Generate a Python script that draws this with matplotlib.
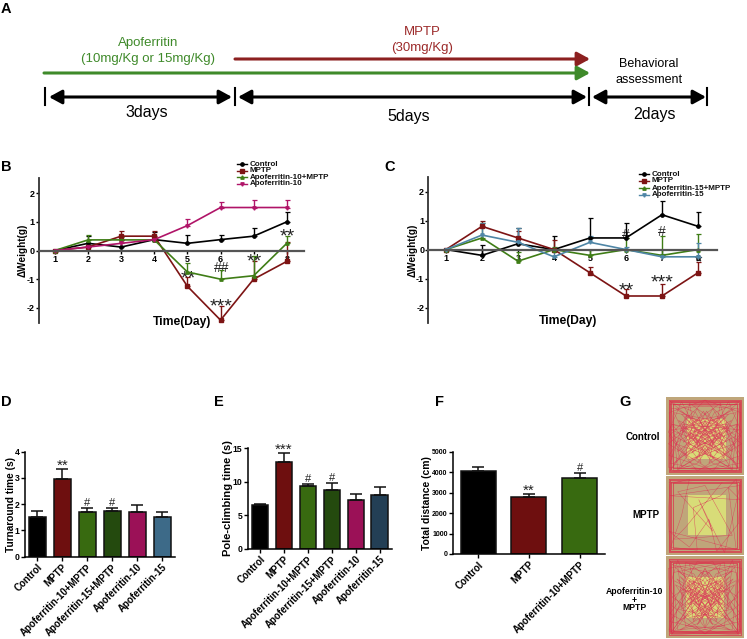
import matplotlib
matplotlib.use("Agg")
import matplotlib.pyplot as plt
from matplotlib.patches import Rectangle

W, H = 747, 639
plt.rcParams['font.family'] = ['Liberation Sans', 'DejaVu Sans']

# ---- data ----
days = [1, 2, 3, 4, 5, 6, 7, 8]

# panel B
b_control = [0, 0.25, 0.12, 0.38, 0.25, 0.38, 0.5, 1.0]
b_control_err = [0, 0.27, 0.25, 0.25, 0.3, 0.17, 0.27, 0.33]
b_mptp = [0, 0.12, 0.5, 0.5, -1.25, -2.43, -1.0, -0.38]
b_mptp_err = [0, 0.05, 0.18, 0.18, 0.32, 0.48, 0.62, 0.66]
b_apo_mptp = [0, 0.37, 0.37, 0.37, -0.75, -1.0, -0.88, 0.25]
b_apo_mptp_err = [0, 0.18, 0.1, 0.1, 0.3, 0.32, 0.68, 0.25]
b_apo = [0, 0.12, 0.25, 0.38, 0.87, 1.5, 1.5, 1.5]
b_apo_err = [0, 0.05, 0.1, 0.1, 0.22, 0.19, 0.26, 0.26]

# panel C
c_control = [0, -0.2, 0.2, 0, 0.4, 0.4, 1.2, 0.8]
c_control_err = [0, 0.37, 0.55, 0.45, 0.68, 0.52, 0.48, 0.5]
c_mptp = [0, 0.8, 0.4, 0, -0.8, -1.6, -1.6, -0.8]
c_mptp_err = [0, 0.2, 0.25, 0.32, 0.2, 0.25, 0.4, 0.37]
c_apo_mptp = [0, 0.4, -0.4, 0, -0.2, 0, -0.2, 0]
c_apo_mptp_err = [0, 0.5, 0.3, 0.1, 0.2, 0.4, 0.67, 0.55]
c_apo = [0, 0.5, 0.25, -0.25, 0.25, 0, -0.25, -0.25]
c_apo_err = [0, 0.4, 0.5, 0.3, 0.2, 0.1, 0.1, 0.47]

# bars
d_labels = ['Control', 'MPTP', 'Apoferritin-10+MPTP', 'Apoferritin-15+MPTP', 'Apoferritin-10', 'Apoferritin-15']
d_values = [1.52, 2.95, 1.7, 1.73, 1.72, 1.52]
d_err = [0.23, 0.4, 0.15, 0.12, 0.25, 0.2]
e_values = [6.5, 12.9, 9.3, 8.7, 7.3, 8.0]
e_err = [0.2, 1.4, 0.3, 1.1, 0.85, 1.15]
f_labels = ['Control', 'MPTP', 'Apoferritin-10+MPTP']
f_values = [4050, 2780, 3720]
f_err = [210, 170, 240]

# hand read tracks for panel G, x/y from 0 to 1 inside the box
g_control = [(.05,.1),(.95,.06),(.97,.9),(.1,.95),(.04,.2),(.5,.04),(.96,.5),(.6,.95),(.03,.6),(.4,.3),(.9,.2),(.7,.6),(.2,.9),
             (.08,.35),(.55,.5),(.85,.93),(.93,.15),(.3,.1),(.15,.7),(.65,.3),(.75,.75),(.35,.55),(.6,.15),(.96,.75),(.45,.92),(.05,.85),
             (.25,.25),(.8,.4),(.5,.7),(.1,.5),(.7,.08),(.55,.85),(.92,.35),(.4,.45),(.2,.06),(.03,.45),(.3,.8),(.88,.6),(.62,.42),(.95,.95),
             (.5,.35),(.12,.15),(.72,.5),(.42,.62),(.58,.28),(.33,.72),(.8,.22),(.48,.52),(.18,.42),(.68,.68),(.9,.85),(.6,.6),(.38,.2),(.07,.07),
             (.46,.4),(.78,.58),(.52,.18),(.28,.62),(.66,.48),(.4,.85),(.15,.93),(.56,.66),(.84,.3),(.44,.5),(.62,.8),(.22,.35),(.94,.42),(.5,.6)]
g_mptp = [(.04,.08),(.5,.05),(.96,.07),(.95,.5),(.97,.93),(.5,.96),(.05,.95),(.03,.5),(.05,.1),(.3,.04),(.2,.5),(.06,.9),(.4,.94),
          (.35,.4),(.7,.25),(.9,.04),(.93,.6),(.65,.95),(.55,.55),(.3,.9),(.04,.7),(.9,.93),(.8,.15),(.95,.3),(.05,.25),(.95,.12),(.75,.97),
          (.42,.3),(.6,.7),(.15,.2),(.5,.12),(.85,.75),(.1,.8),(.25,.65),(.72,.08)]
g_apo = [(.04,.06),(.94,.05),(.96,.92),(.07,.96),(.03,.15),(.6,.07),(.93,.6),(.5,.95),(.05,.7),(.45,.2),(.85,.12),(.75,.85),(.15,.9),
         (.1,.3),(.6,.55),(.92,.95),(.9,.2),(.25,.08),(.2,.65),(.7,.3),(.65,.8),(.3,.5),(.55,.2),(.95,.8),(.35,.93),(.04,.9),
         (.3,.3),(.8,.45),(.45,.75),(.08,.5),(.7,.1),(.5,.88),(.88,.35),(.4,.6),(.15,.05),(.04,.4),(.3,.75),(.85,.65),(.55,.4),(.93,.93),
         (.48,.3),(.14,.18),(.7,.52),(.4,.68),(.56,.3),(.35,.78),(.82,.25),(.5,.5),(.2,.4),(.66,.7),(.88,.82),(.58,.62),(.36,.22),(.08,.1),
         (.44,.44),(.76,.6),(.5,.15),(.3,.6),(.64,.46),(.42,.82),(.18,.9),(.54,.7),(.86,.28),(.46,.54),(.6,.84),(.25,.38)]
# distance of the wall runs from the box edge
wall_insets = [.04, .055, .07, .09]

# colours
BLACK = '#000000'
RED = '#7d1414'
GREEN = '#3f7d16'
PINK = '#b01468'
BLUE = '#4f86a6'
bar_colors_d = ['#000000', '#6e0f0f', '#386a10', '#244a0e', '#9b1157', '#3d6a88']
bar_colors_e = ['#000000', '#6e0f0f', '#386a10', '#244a0e', '#9b1157', '#233f55']
bar_colors_f = ['#000000', '#6e0f0f', '#386a10']


def px_axes(fig, left, top, right, bottom):
    return fig.add_axes([left / W, 1 - bottom / H, (right - left) / W, (bottom - top) / H])


fig = plt.figure(figsize=(W / 100, H / 100), dpi=100)

# overlay in pixel coordinates for the schema and labels
bg = fig.add_axes([0, 0, 1, 1])
bg.set_xlim(0, W)
bg.set_ylim(H, 0)
bg.axis('off')

for txt, x, y in [('A', 6, 9), ('B', 6, 167), ('C', 390, 167), ('D', 6, 402), ('E', 219, 402), ('F', 439, 402), ('G', 625, 402)]:
    bg.text(x, y, txt, fontsize=10.5, fontweight='bold', ha='center', va='center')


def arrow(x0, x1, y, color, style='-|>', lw=2.2):
    bg.annotate('', xy=(x1, y), xytext=(x0, y),
                arrowprops=dict(arrowstyle=style + ',head_length=0.55,head_width=0.3', color=color, lw=lw,
                                shrinkA=0, shrinkB=0, mutation_scale=14))


arrow(235, 590, 59, '#8c2020')
arrow(44, 590, 73, '#3f8a2a')
arrow(49, 232, 97, BLACK, '<|-|>')
arrow(238, 587, 97, BLACK, '<|-|>')
arrow(592, 706, 97, BLACK, '<|-|>')
for x in [45, 235, 589, 707]:
    bg.plot([x, x], [88, 105], color=BLACK, lw=1.5)

bg.text(148, 43, 'Apoferritin', color='#3f8a2a', fontsize=9.5, ha='center', va='center')
bg.text(148, 59, '(10mg/Kg or 15mg/Kg)', color='#3f8a2a', fontsize=9.5, ha='center', va='center')
bg.text(422, 32, 'MPTP', color='#9c2a2a', fontsize=9.5, ha='center', va='center')
bg.text(422, 48, '(30mg/Kg)', color='#9c2a2a', fontsize=9.5, ha='center', va='center')
bg.text(649, 64, 'Behavioral', fontsize=9, ha='center', va='center')
bg.text(649, 80, 'assessment', fontsize=9, ha='center', va='center')
bg.text(147, 113, '3days', fontsize=11.5, ha='center', va='center')
bg.text(409, 117, '5days', fontsize=11.5, ha='center', va='center')
bg.text(654, 114, '2days', fontsize=11.5, ha='center', va='center')


def line_panel(box, xlim, ylim, series, legend_x, legend_y, legend_dy, ylab_pad):
    ax = px_axes(fig, *box)
    ax.patch.set_alpha(0)
    ax.set_xlim(*xlim)
    ax.set_ylim(*ylim)
    for side in ['top', 'right']:
        ax.spines[side].set_visible(False)
    ax.spines['bottom'].set_position(('data', 0))
    ax.spines['bottom'].set_color('#555555')
    ax.spines['bottom'].set_linewidth(1.6)
    ax.spines['left'].set_color('#333333')
    ax.spines['left'].set_linewidth(1.3)
    ax.set_xticks(days)
    ax.set_yticks([-2, -1, 0, 1, 2])
    ax.set_yticklabels(['-2', '-1', '0', '1', '2'])
    ax.tick_params(axis='x', length=2, width=1, pad=1, labelsize=6.5, direction='out')
    ax.tick_params(axis='y', length=2.5, width=1, pad=0.5, labelsize=6.5)
    for lab in ax.get_xticklabels() + ax.get_yticklabels():
        lab.set_fontweight('bold')
    ax.set_ylabel('ΔWeight(g)', fontsize=7.2, fontweight='bold', labelpad=ylab_pad)
    for (vals, err, col, mk, name) in series:
        ax.errorbar(days, vals, yerr=[[0] * 8, err], color=col, lw=1.2, marker=mk, ms=2.4,
                    capsize=1.8, elinewidth=1.0, capthick=0.9)
    for i, (vals, err, col, mk, name) in enumerate(series):
        y = legend_y + i * legend_dy
        bg.plot([legend_x, legend_x + 10], [y, y], color=col, lw=1)
        bg.plot([legend_x + 5], [y], color=col, marker=mk, ms=2.4)
        bg.text(legend_x + 13, y, name, fontsize=5.8, fontweight='bold', va='center', color='#111111')
    return ax


b_series = [(b_control, b_control_err, BLACK, 'o', 'Control'),
            (b_mptp, b_mptp_err, RED, 's', 'MPTP'),
            (b_apo_mptp, b_apo_mptp_err, GREEN, '^', 'Apoferritin-10+MPTP'),
            (b_apo, b_apo_err, PINK, 'v', 'Apoferritin-10')]
c_series = [(c_control, c_control_err, BLACK, 'o', 'Control'),
            (c_mptp, c_mptp_err, RED, 's', 'MPTP'),
            (c_apo_mptp, c_apo_mptp_err, GREEN, '^', 'Apoferritin-15+MPTP'),
            (c_apo, c_apo_err, BLUE, 'v', 'Apoferritin-15')]
line_panel((38.7, 178, 304, 323), (0.51, 8.52), (-2.53, 2.53), b_series, 237, 164, 6.6, -1)
line_panel((428.3, 177, 716.7, 322.7), (0.51, 8.52), (-2.52, 2.5), c_series, 639, 174, 7, -1)

bg.text(182, 322, 'Time(Day)', fontsize=8.7, fontweight='bold', ha='center', va='center')
bg.text(568, 321, 'Time(Day)', fontsize=8.7, fontweight='bold', ha='center', va='center')

# significance marks of B and C, stars sit high in their line box
for txt, x, y in [('**', 188, 274), ('***', 221, 302), ('**', 254, 257), ('**', 287, 232),
                  ('**', 626, 286), ('***', 662, 278), ('*', 698, 258)]:
    bg.text(x, y + 5, txt, fontsize=14, ha='center', va='center', color='#222222')
for txt, x, y in [('##', 222, 268), ('#', 626, 235), ('#', 662, 232)]:
    bg.text(x, y, txt, fontsize=10, ha='center', va='center', color='#222222')


def bar_panel(box, xlim, ylim, yticks, labels, values, err, colors, ylabel, marks, ylab_fs, ylab_pad, ytick_fs=6.2):
    ax = px_axes(fig, *box)
    ax.patch.set_alpha(0)
    ax.set_xlim(*xlim)
    ax.set_ylim(*ylim)
    xs = list(range(len(values)))
    ax.bar(xs, values, width=0.69, color=colors, edgecolor='#111111', linewidth=1.1)
    ax.errorbar(xs, values, yerr=[[0] * len(err), err], fmt='none', ecolor='#111111', elinewidth=1.1,
                capsize=4, capthick=1.1)
    for side in ['top', 'right']:
        ax.spines[side].set_visible(False)
    for side in ['left', 'bottom']:
        ax.spines[side].set_linewidth(1.1)
    ax.set_yticks(yticks)
    ax.set_xticks(xs)
    ax.set_xticklabels(labels, rotation=45, ha='right', rotation_mode='anchor', fontsize=7, fontweight='bold')
    ax.tick_params(axis='y', length=3, width=1, pad=1, labelsize=ytick_fs)
    ax.tick_params(axis='x', length=3, width=1, pad=1)
    for lab in ax.get_yticklabels():
        lab.set_fontweight('bold')
    ax.set_ylabel(ylabel, fontsize=ylab_fs, fontweight='bold', labelpad=ylab_pad)
    for i, txt in marks:
        star = '*' in txt
        ax.annotate(txt, (i, values[i] + err[i]), xytext=(0, -3 if star else 0), textcoords='offset points',
                    ha='center', va='bottom', fontsize=11 if star else 8, color='#222222')
    return ax


bar_panel((25, 451.7, 175, 556.7), (-0.49, 5.51), (0, 4), [0, 1, 2, 3, 4], d_labels, d_values, d_err,
          bar_colors_d, 'Turnaround time (s)', [(1, '**'), (2, '#'), (3, '#')], 7.3, -1)
bar_panel((248, 448.3, 391.7, 548.7), (-0.5, 5.5), (0, 15), [0, 5, 10, 15], d_labels, e_values, e_err,
          bar_colors_e, 'Pole-climbing time (s)', [(1, '***'), (2, '#'), (3, '#')], 8, 0)
bar_panel((453.3, 451.7, 605, 554), (-0.49, 2.5), (0, 5000), [0, 1000, 2000, 3000, 4000, 5000], f_labels, f_values, f_err,
          bar_colors_f, 'Total distance (cm)', [(1, '**'), (2, '#')], 7.5, 0, 5)


# open field boxes of panel G
def track_box(left, top, right, bottom, track, inner, copies):
    bg.add_patch(Rectangle((left, top), right - left, bottom - top, color='#bfa67a', lw=0))
    il, it, ir, ib = inner
    w, h = right - left, bottom - top
    bg.add_patch(Rectangle((left + il * w, top + it * h), (ir - il) * w, (ib - it) * h, color='#d8dc78', lw=0))
    # same run mirrored, so the few typed points give the crowded look
    views = [lambda p: p, lambda p: (1 - p[0], p[1])]
    for view in views[:copies]:
        pts = [view(p) for p in track]
        bg.plot([left + p[0] * w for p in pts], [top + p[1] * h for p in pts], color='#d9405a', lw=0.35, alpha=0.8)
    for d in wall_insets:
        bg.plot([left + d * w, left + (1 - d) * w, left + (1 - d) * w, left + d * w, left + d * w],
                [top + d * h, top + d * h, top + (1 - d) * h, top + (1 - d) * h, top + d * h],
                color='#dc2a48', lw=0.6, alpha=0.8)


track_box(666, 397, 744, 475, g_control, (.27, .28, .77, .79), 2)
track_box(666, 476, 744, 555, g_mptp, (.28, .24, .77, .75), 1)
track_box(666, 556, 744, 638, g_apo, (.26, .25, .74, .76), 2)

bg.text(643, 437, 'Control', fontsize=7, fontweight='bold', ha='center', va='center')
bg.text(646, 515, 'MPTP', fontsize=7, fontweight='bold', ha='center', va='center')
bg.text(634, 592, 'Apoferritin-10', fontsize=6.2, fontweight='bold', ha='center', va='center')
bg.text(634, 600, '+', fontsize=6.2, fontweight='bold', ha='center', va='center')
bg.text(634, 608, 'MPTP', fontsize=6.2, fontweight='bold', ha='center', va='center')

fig.savefig('out.png', dpi=100)
